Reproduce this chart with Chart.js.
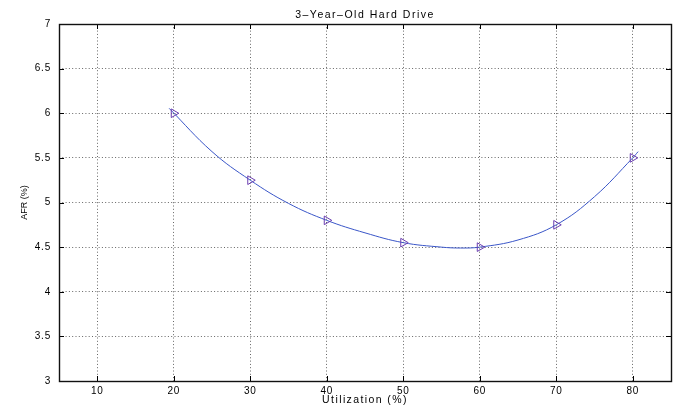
<!DOCTYPE html>
<html><head><meta charset="utf-8">
<script src="https://cdn.jsdelivr.net/npm/chart.js@4"></script>
<style>html,body{margin:0;padding:0;background:#fff}#wrap{width:679px;height:407px}</style>
</head><body><div id="wrap"><canvas id="c" width="679" height="407"></canvas></div>
<script>
const utilization = [20, 30, 40, 50, 60, 70, 80];
const afr = [6.0, 5.25, 4.8, 4.55, 4.5, 4.75, 5.5];
const fitX = [19.4, 25, 30, 35, 40, 45, 50, 55, 57.5, 60, 65, 70, 75, 80, 80.7];
const fitY = [6.055, 5.57, 5.25, 4.99, 4.8, 4.66, 4.55, 4.5, 4.49, 4.5, 4.58, 4.75, 5.065, 5.5, 5.57];
const xTicks = [10, 20, 30, 40, 50, 60, 70, 80];
const yTicks = [3, 3.5, 4, 4.5, 5, 5.5, 6, 6.5, 7];

const FONT = 'Liberation Sans, Arial, Helvetica, sans-serif';

function withSpacing(obj, method, spacing) {
  if (!obj || obj['__sp_' + method]) return;
  const orig = obj[method];
  obj[method] = function (...args) {
    const ctx = this.ctx || this.chart.ctx;
    ctx.save();
    ctx.letterSpacing = spacing;
    const r = orig.apply(this, args);
    ctx.restore();
    return r;
  };
  obj['__sp_' + method] = true;
}

const spacingPlugin = {
  id: 'spacing',
  beforeDraw(chart) {
    withSpacing(chart.titleBlock, 'draw', '1.5px');
    withSpacing(chart.scales.x, 'drawTitle', '1.4px');
    withSpacing(chart.scales.x, 'drawLabels', '0.8px');
    withSpacing(chart.scales.y, 'drawLabels', '0.8px');
  }
};

const boxPlugin = {
  id: 'box',
  afterDraw(chart) {
    const {ctx, chartArea: a, scales: {x, y}} = chart;
    ctx.save();
    ctx.strokeStyle = '#000';
    ctx.lineWidth = 1;
    ctx.setLineDash([]);
    ctx.beginPath();
    xTicks.forEach(v => {
      const px = Math.round(x.getPixelForValue(v)) + 0.5;
      ctx.moveTo(px, a.bottom); ctx.lineTo(px, a.bottom - 5);
      ctx.moveTo(px, a.top); ctx.lineTo(px, a.top + 5);
    });
    yTicks.forEach(v => {
      const py = Math.round(y.getPixelForValue(v)) + 0.5;
      ctx.moveTo(a.left, py); ctx.lineTo(a.left + 5, py);
      ctx.moveTo(a.right, py); ctx.lineTo(a.right - 5, py);
    });
    ctx.stroke();
    ctx.lineWidth = 1.4;
    ctx.strokeStyle = '#111';
    ctx.strokeRect(Math.round(a.left) + 0.5, Math.round(a.top) + 0.5, Math.round(a.right - a.left), Math.round(a.bottom - a.top));
    ctx.restore();
  }
};

new Chart(document.getElementById('c'), {
  type: 'scatter',
  data: {
    datasets: [
      {
        label: 'fit',
        data: fitX.map((v, i) => ({x: v, y: fitY[i]})),
        showLine: true,
        borderColor: '#3a56c8',
        borderWidth: 1,
        pointRadius: 0,
        tension: 0.4,
        order: 2
      },
      {
        label: 'AFR',
        data: utilization.map((v, i) => ({x: v, y: afr[i]})),
        showLine: false,
        pointStyle: 'triangle',
        rotation: 90,
        pointRadius: 5,
        pointBorderColor: '#6b3fb0',
        pointBackgroundColor: 'rgba(0,0,0,0)',
        pointBorderWidth: 1,
        order: 1
      }
    ]
  },
  options: {
    responsive: false,
    animation: false,
    devicePixelRatio: 1,
    layout: {padding: {left: 0, right: 8, top: 0, bottom: 0}},
    plugins: {
      legend: {display: false},
      tooltip: {enabled: false},
      title: {
        display: true,
        text: '3\u2013Year\u2013Old Hard Drive',
        fullSize: false,
        color: '#000',
        font: {family: FONT, size: 10.5, weight: 'normal'},
        padding: {top: 9, bottom: 2.4}
      }
    },
    scales: {
      x: {
        type: 'linear',
        min: 5, max: 85,
        afterBuildTicks: s => { s.ticks = xTicks.map(v => ({value: v})); },
        afterFit: s => { s.height = 26; },
        grid: {color: '#666', lineWidth: 1, drawTicks: false},
        border: {display: false, dash: [1, 2.3]},
        ticks: {color: '#000', font: {family: FONT, size: 10}, padding: 4, maxRotation: 0},
        title: {display: true, text: 'Utilization (%)', color: '#000', font: {family: FONT, size: 10.5}, padding: {top: 0, bottom: 1}}
      },
      y: {
        type: 'linear',
        min: 3, max: 7,
        afterBuildTicks: s => { s.ticks = yTicks.map(v => ({value: v})); },
        afterFit: s => { s.width = 59; },
        grid: {color: '#666', lineWidth: 1, drawTicks: false},
        border: {display: false, dash: [1, 2.3]},
        ticks: {color: '#000', font: {family: FONT, size: 10}, padding: 8, callback: v => String(v)},
        title: {display: true, text: 'AFR (%)', color: '#000', font: {family: FONT, size: 9}, padding: {top: 19, bottom: 0}}
      }
    }
  },
  plugins: [spacingPlugin, boxPlugin]
});
</script>
</body></html>
